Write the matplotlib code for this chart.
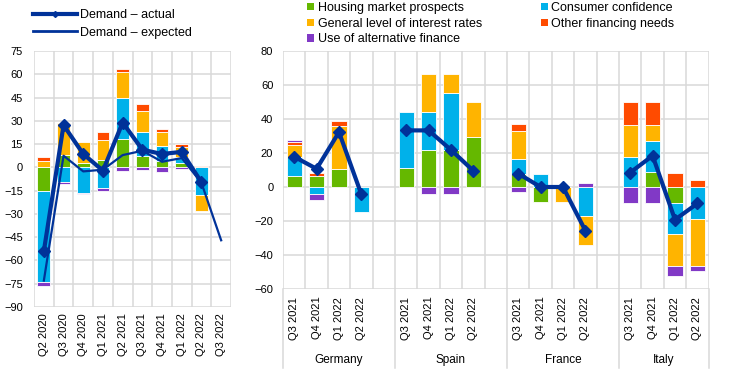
import numpy as np
import matplotlib
matplotlib.use('Agg')
import matplotlib.pyplot as plt
from matplotlib.lines import Line2D
from matplotlib.patches import Patch
import matplotlib.transforms as mtransforms

plt.rcParams['font.family'] = ['Liberation Sans', 'DejaVu Sans']

# ---------------- data ----------------
series_names = ['Housing market prospects', 'Consumer confidence',
                'General level of interest rates', 'Other financing needs',
                'Use of alternative finance']
series_colors = ['#65B800', '#00B1EA', '#FFB400', '#FF4B00', '#8139C6']
navy = '#003299'

left_periods = ['Q2 2020', 'Q3 2020', 'Q4 2020', 'Q1 2021', 'Q2 2021',
                'Q3 2021', 'Q4 2021', 'Q1 2022', 'Q2 2022', 'Q3 2022']
left_housing = [-15.0, 7.9, 2.6, 4.7, 18.2, 7.1, 3.9, 2.6, 0.5, np.nan]
left_consumer = [-59.0, -9.5, -16.3, -13.3, 26.8, 15.4, 10.0, 3.8, -17.6, np.nan]
left_interest = [3.9, 20.8, 13.9, 13.1, 16.7, 13.9, 8.6, 6.5, -10.5, np.nan]
left_other = [2.5, 0.0, 0.0, 5.3, 1.5, 4.7, 2.1, 2.0, 0.5, np.nan]
left_altfin = [-2.6, -1.5, -1.0, -1.7, -2.1, -2.0, -3.2, -1.0, 0.0, np.nan]
left_actual = [-54.0, 27.2, 8.6, -2.1, 28.9, 11.4, 8.6, 10.0, -9.6, np.nan]
left_expected = [-73.0, 7.5, -2.6, -1.5, 7.9, 10.7, 3.6, 6.0, -10.0, -47.0]

countries = ['Germany', 'Spain', 'France', 'Italy']
right_periods = ['Q3 2021', 'Q4 2021', 'Q1 2022', 'Q2 2022']
# order: Germany x4, Spain x4, France x4, Italy x4
right_housing = [6.7, 6.7, 10.3, 0.0, 10.9, 21.8, 21.8, 29.5,
                 7.9, -8.7, 0.0, 0.0, 0.0, 8.7, -9.7, 0.0]
right_consumer = [10.7, -4.0, 0.0, -14.7, 33.5, 22.4, 33.6, 0.0,
                  8.3, 7.9, 0.0, -17.2, 17.8, 18.2, -18.2, -18.6]
right_interest = [7.2, 0.0, 25.3, 0.0, 0.0, 22.5, 11.3, 20.4,
                  16.9, 0.0, -8.7, -16.7, 18.4, 9.3, -18.4, -27.7]
right_other = [1.7, 1.6, 3.4, 0.0, 0.0, 0.0, 0.0, 0.0,
               4.1, 0.0, 0.0, 0.0, 13.7, 13.7, 8.5, 4.0]
right_altfin = [1.4, -3.5, 0.0, 0.0, 0.0, -4.0, -4.0, 0.0,
                -3.0, 0.0, 0.0, 2.2, -9.5, -9.5, -6.1, -3.2]
right_actual = [17.8, 10.7, 32.3, -4.4, 33.3, 33.3, 21.8, 9.5,
                7.9, 0.0, 0.0, -25.7, 8.5, 18.4, -19.2, -9.7]

left_yticks = list(range(-90, 76, 15))
right_yticks = list(range(-60, 81, 20))

# ---------------- helpers ----------------
W, H = 744, 384
fig = plt.figure(figsize=(W / 100, H / 100), dpi=100)
grid_c = '#d9d9d9'


def stack(ax, x, series, width):
    x = np.asarray(x, float)
    pos = np.zeros(len(x))
    neg = np.zeros(len(x))
    for vals, c in zip(series, series_colors):
        v = np.nan_to_num(np.asarray(vals, float))
        bottom = np.where(v >= 0, pos, neg)
        m = v != 0
        ax.bar(x[m], v[m], width, bottom=bottom[m], color=c,
               edgecolor='white', linewidth=0.6, zorder=2)
        pos += np.where(v > 0, v, 0)
        neg += np.where(v < 0, v, 0)


def style(ax, nslots, yticks, ylim):
    ax.set_xlim(0, nslots)
    ax.set_ylim(*ylim)
    ax.set_yticks(yticks)
    ax.set_xticks(np.arange(0, nslots + 1), minor=True)
    for s in ax.spines.values():
        s.set_visible(False)
    ax.grid(which='minor', axis='x', color=grid_c, lw=1.1, zorder=0)
    ax.grid(which='major', axis='y', color=grid_c, lw=1.1, zorder=0)
    ax.grid(which='major', axis='x', visible=False)
    ax.tick_params(which='both', length=0, labelsize=8)
    ax.set_axisbelow(True)


# ---------------- left panel ----------------
axL = fig.add_axes([34 / W, 1 - 307 / H, 197 / W, 256 / H])
xl = np.arange(len(left_periods)) + 0.5
stack(axL, xl, [left_housing, left_consumer, left_interest, left_other, left_altfin], 0.65)
axL.plot(xl, left_expected, color=navy, lw=1.6, zorder=3)
axL.plot(xl, left_actual, color=navy, lw=3.0, marker='D', ms=6.5, zorder=4)
style(axL, len(left_periods), left_yticks, (-90, 75))
axL.set_xticks(xl)
axL.set_xticklabels(left_periods, rotation=90)
axL.tick_params(axis='x', pad=4.5)
axL.tick_params(axis='y', pad=8)

# ---------------- right panel ----------------
nslots = 19
axR = fig.add_axes([283 / W, 1 - 289 / H, 425.6 / W, 238 / H])
xr = np.array([g * 5 + q + 0.5 for g in range(len(countries)) for q in range(len(right_periods))])
stack(axR, xr, [right_housing, right_consumer, right_interest, right_other, right_altfin], 0.67)
for g in range(len(countries)):
    sl = slice(g * 4, g * 4 + 4)
    axR.plot(xr[sl], right_actual[sl], color=navy, lw=3.0, marker='D', ms=6.5, zorder=4)
style(axR, nslots, right_yticks, (-60, 80))
axR.set_xticks(xr)
axR.set_xticklabels(right_periods * len(countries), rotation=90)
axR.tick_params(axis='x', pad=5.5)
axR.tick_params(axis='y', pad=7)

trans = mtransforms.blended_transform_factory(axR.transData, axR.transAxes)
for b in [0, 5, 10, 15, 19]:
    axR.plot([b, b], [0, -79 / 238], color=grid_c, lw=1.1, transform=trans, clip_on=False)
for g, name in enumerate(countries):
    cx = g * 5 + 2.5 if g < 3 else 17.0
    axR.text(cx, -71 / 238, name, transform=trans, ha='center', va='center', fontsize=8.5)

# ---------------- legends ----------------
hL = [Line2D([], [], color=navy, lw=3.0, marker='D', ms=3),
      Line2D([], [], color=navy, lw=2.0)]
fig.legend(hL, ['Demand \u2013 actual', 'Demand \u2013 expected'],
           loc='upper left', bbox_to_anchor=(33 / W, 1 - 9 / H), frameon=False,
           fontsize=9, handlelength=3.5, handletextpad=0.25, labelspacing=0.45,
           borderaxespad=0, borderpad=0)

order = [0, 2, 4, 1, 3]
hR = [Patch(facecolor=series_colors[i], edgecolor='none') for i in order]
fig.legend(hR, [series_names[i] for i in order], loc='upper left', ncol=2,
           bbox_to_anchor=(307 / W, 1 - 2 / H), frameon=False, fontsize=9,
           handlelength=0.55, handleheight=0.55, handletextpad=0.3,
           labelspacing=0.3, columnspacing=4.7, borderaxespad=0, borderpad=0)

fig.savefig('out.png', dpi=100)
